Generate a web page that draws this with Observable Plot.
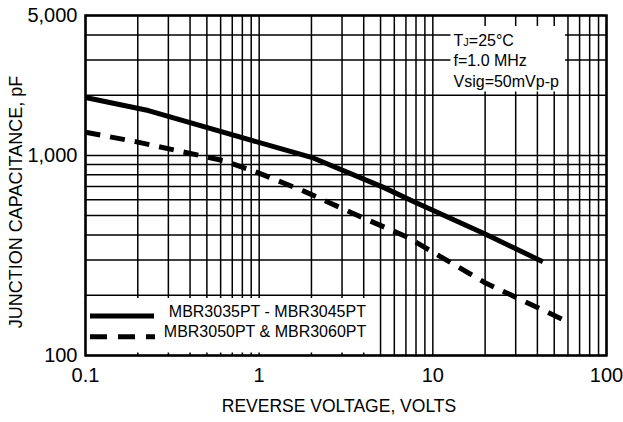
<!DOCTYPE html>
<html><head><meta charset="utf-8">
<script src="https://cdn.jsdelivr.net/npm/d3@7"></script>
<script src="https://cdn.jsdelivr.net/npm/@observablehq/plot@0.6"></script>
<style>
body{margin:0;background:#fff}
svg{display:block}
svg g[aria-label^="x-axis"] text, svg g[aria-label^="y-axis"] text{font-size:20px;fill:#000}
</style>
</head><body><div id="chart"></div>
<script>
// Series: MBR3035PT - MBR3045PT (solid)
const solidVoltage = [0.1, 0.23, 1.33, 2.0, 5.2, 7.9, 20, 43];
const solidCapacitance = [1945, 1675, 1080, 978, 692, 583, 405, 294];
// Series: MBR3050PT & MBR3060PT (dashed)
const dashedVoltage = [0.1, 0.194, 0.62, 0.98, 1.82, 3.59, 7.1, 20, 59];
const dashedCapacitance = [1305, 1172, 942, 820, 661, 506, 391, 231, 148];

const seriesNames = ["MBR3035PT - MBR3045PT", "MBR3050PT & MBR3060PT"];
const xTickValues = [0.1, 1, 10, 100];
const xTickLabels = ["0.1", "1", "10", "100"];
const yTickValues = [100, 1000, 5000];
const yTickLabels = ["100", "1,000", "5,000"];
const xGridValues = [0.1,0.2,0.3,0.4,0.5,0.6,0.7,0.8,0.9,1,2,3,4,5,6,7,8,9,10,20,30,40,50,60,70,80,90,100];
const yGridValues = [100,200,300,400,500,600,700,800,900,1000,2000,3000,4000,5000];
const xTitle = "REVERSE VOLTAGE, VOLTS";
const yTitle = "JUNCTION CAPACITANCE, pF";
const conditions = ["TJ=25°C", "f=1.0 MHz", "Vsig=50mVp-p"];

const solid = solidVoltage.map((v, i) => ({v, c: solidCapacitance[i]}));
const dashed = dashedVoltage.map((v, i) => ({v, c: dashedCapacitance[i]}));

const font = "'Liberation Sans', Arial, Helvetica, sans-serif";

const chart = Plot.plot({
  width: 623, height: 422,
  marginLeft: 85, marginRight: 17, marginTop: 15, marginBottom: 67,
  style: {fontFamily: font, fontSize: "20px", color: "black", background: "white"},
  x: {type: "log", domain: [0.1, 100], ticks: xTickValues,
      tickFormat: d => xTickLabels[xTickValues.indexOf(d)], tickSize: 0, tickPadding: 12, label: null},
  y: {type: "log", domain: [100, 5000], ticks: yTickValues,
      tickFormat: d => yTickLabels[yTickValues.indexOf(d)], tickSize: 0, tickPadding: 8, label: null},
  marks: [
    Plot.ruleX(xGridValues, {x: d => d, stroke: "black", strokeWidth: 1.5}),
    Plot.ruleY(yGridValues, {y: d => d, stroke: "black", strokeWidth: 1.5}),
    Plot.line(solid, {x: "v", y: "c", stroke: "black", strokeWidth: 5, strokeLinecap: "butt"}),
    Plot.line(dashed, {x: "v", y: "c", stroke: "black", strokeWidth: 5, strokeLinecap: "butt", strokeDasharray: "15,10"}),
    Plot.frame({stroke: "black", strokeWidth: 2.5}),
    Plot.text([xTitle], {text: d => d, frameAnchor: "bottom", dx: -7, dy: 56, fontSize: 17.5}),
    Plot.text([conditions.join("\n")], {text: d => d, frameAnchor: "top-left", dx: 368, dy: 15.3,
      textAnchor: "start", lineAnchor: "top", lineHeight: 1.3, fontSize: 16}),
    Plot.text([seriesNames[0]], {text: d => d, frameAnchor: "bottom-left", dx: 83.3, dy: -38.6, textAnchor: "start", fontSize: 16}),
    Plot.text([seriesNames[1]], {text: d => d, frameAnchor: "bottom-left", dx: 78.3, dy: -18.6, textAnchor: "start", fontSize: 16})
  ]
});

document.getElementById("chart").appendChild(chart);

const svg = d3.select(chart.tagName.toLowerCase() === "svg" ? chart : chart.querySelector("svg"));

// y-axis title (rotated)
svg.append("text")
  .attr("transform", "translate(16,202) rotate(-90)")
  .attr("text-anchor", "middle")
  .attr("dy", "0.32em")
  .attr("font-size", "18px")
  .attr("font-family", font)
  .attr("fill", "black")
  .text(yTitle);

// white boxes behind legend and conditions (layout decoration)
const firstLine = svg.select('g[aria-label="line"]').node();
const boxes = svg.insert("g", () => firstLine).attr("aria-label", "boxes");
boxes.append("rect").attr("x", 86).attr("y", 298).attr("width", 286).attr("height", 54.5).attr("fill", "white");
boxes.append("rect").attr("x", 450.5).attr("y", 26).attr("width", 114.5).attr("height", 65.5).attr("fill", "white");

// legend samples
const leg = svg.append("g").attr("aria-label", "legend samples");
leg.append("line").attr("x1", 90).attr("x2", 154).attr("y1", 316).attr("y2", 316)
  .attr("stroke", "black").attr("stroke-width", 5);
leg.append("line").attr("x1", 90).attr("x2", 155).attr("y1", 336.7).attr("y2", 336.7)
  .attr("stroke", "black").attr("stroke-width", 5).attr("stroke-dasharray", "17,11");

// subscript-like small J in TJ
svg.selectAll("text tspan, text").each(function() {
  const el = this;
  if (el.childNodes.length === 1 && el.childNodes[0].nodeType === 3 && el.textContent === "TJ=25°C") {
    el.textContent = "";
    el.appendChild(document.createTextNode("T"));
    const t = document.createElementNS("http://www.w3.org/2000/svg", "tspan");
    t.setAttribute("font-size", "11px");
    t.textContent = "J";
    el.appendChild(t);
    el.appendChild(document.createTextNode("=25°C"));
  }
});
</script>
</body></html>
